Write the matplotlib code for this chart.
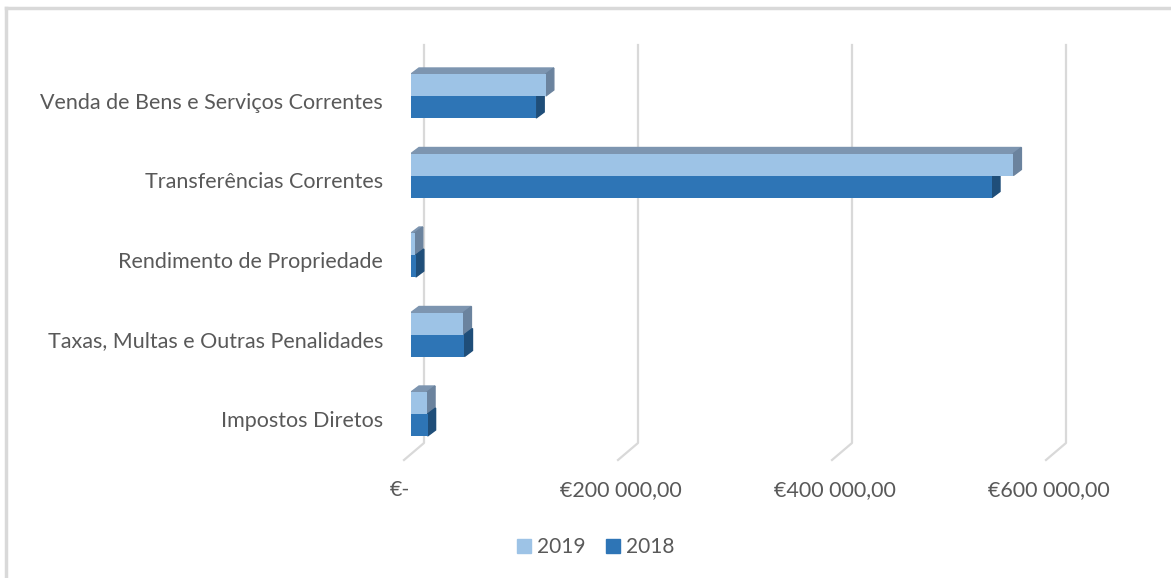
import numpy as np
import matplotlib.pyplot as plt
from matplotlib.patches import Polygon, Patch

plt.rcParams['font.family'] = ['Lato', 'DejaVu Sans']

categorias = ["Impostos Diretos", "Taxas, Multas e Outras Penalidades",
              "Rendimento de Propriedade", "Transferências Correntes",
              "Venda de Bens e Serviços Correntes"]
v2019 = [15000, 49000, 3500, 563000, 126000]
v2018 = [15500, 50000, 4500, 543000, 117000]
ticks = [0, 200000, 400000, 600000]
tick_labels = ["€-", "€200 000,00", "€400 000,00", "€600 000,00"]

c19, c18 = '#9DC3E6', '#2E75B6'
c19_top, c19_side = '#7D95B0', '#6B839E'
c18_side = '#1F4E79'
txt = '#595959'
grid = '#D9D9D9'

W, H = 1171, 578
fig = plt.figure(figsize=(W/100, H/100), dpi=100)
# front plane of the bars: 0 at px 411, 214 px per 200 000
ax = fig.add_axes([411/W, (H-460)/H, 642/W, 415/H])
ax.set_xlim(0, 600000)
ax.set_ylim((414-460)/79.5, (414-45)/79.5)
ax.axis('off')

px = 600000/642      # data units per pixel (x)
py = 1/79.5          # data units per pixel (y)
y = np.arange(len(categorias))
h = 22*py

# back wall gridlines + floor
for t in ticks:
    xb = t + 13*px
    ax.plot([xb, xb, xb - 20*px], [(414-45)*py, (414-443)*py, (414-460)*py],
            color=grid, lw=1.6, zorder=0, clip_on=False)

# bars with fake 3d depth
dx, dy = 8*px, 6*py
ax.barh(y + h/2, v2019, height=h, color=c19, zorder=3)
ax.barh(y - h/2, v2018, height=h, color=c18, zorder=3)
for i in range(len(y)):
    top = y[i] + h
    ax.add_patch(Polygon([(0, top), (v2019[i], top), (v2019[i]+dx, top+dy), (dx, top+dy)],
                         color=c19_top, zorder=2))
    ax.add_patch(Polygon([(v2019[i], y[i]), (v2019[i], top), (v2019[i]+dx, top+dy), (v2019[i]+dx, y[i]+dy)],
                         color=c19_side, zorder=2))
    ax.add_patch(Polygon([(v2018[i], y[i]-h), (v2018[i], y[i]), (v2018[i]+dx, y[i]+dy), (v2018[i]+dx, y[i]-h+dy)],
                         color=c18_side, zorder=2))

# category labels
for i, c in enumerate(categorias):
    ax.text(-28*px, y[i] - 7*py, c, ha='right', va='center', fontsize=15.5, color=txt, clip_on=False)

# value axis labels
for t, lab in zip(ticks, tick_labels):
    if t == 0:
        ax.text(t - 1*px, (414-490)*py, lab, ha='right', va='center', fontsize=15.5, color=txt)
    else:
        ax.text(t - 4*px, (414-490)*py, lab, ha='center', va='center', fontsize=15.5, color=txt)

handles = [Patch(color=c19, label='2019'), Patch(color=c18, label='2018')]
fig.legend(handles=handles, loc='center', bbox_to_anchor=(596/W, (H-547)/H), ncol=2,
           frameon=False, fontsize=15, labelcolor=txt, handlelength=0.65, handleheight=0.65,
           handletextpad=0.3, columnspacing=1.0)

# chart border (only top and left visible)
fig.add_artist(plt.Line2D([6/W, 6/W], [0, (H-8)/H], color=grid, lw=2.5))
fig.add_artist(plt.Line2D([6/W, 1], [(H-8)/H, (H-8)/H], color=grid, lw=2.5))

fig.savefig('out.png', dpi=100)
